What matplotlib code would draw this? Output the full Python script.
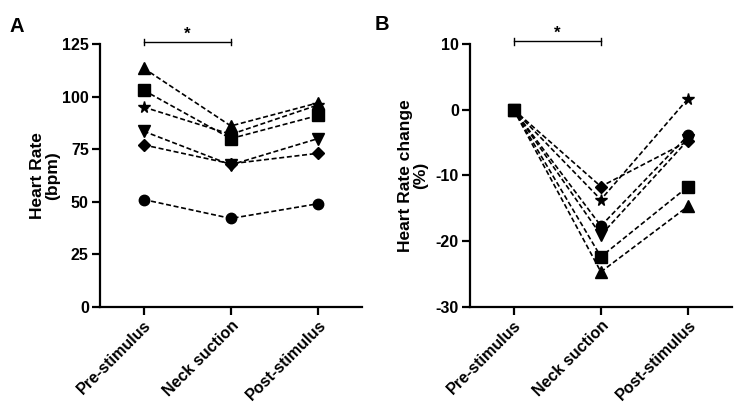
import matplotlib
matplotlib.use("Agg")
import matplotlib.pyplot as plt

plt.rcParams["font.family"] = ["Liberation Sans", "DejaVu Sans"]
plt.rcParams["font.weight"] = "bold"
plt.rcParams["axes.unicode_minus"] = False

# conditions on the x axis
CATEGORIES = ["Pre-stimulus", "Neck suction", "Post-stimulus"]

# one subject per marker
MARKERS = ["^", "s", "*", "v", "D", "o"]

# panel A: heart rate (bpm)
HR_TRI = [113.5, 86, 97]
HR_SQ = [103, 80, 91]
HR_STAR = [95, 82, 96]
HR_VTRI = [83.5, 67.5, 80]
HR_DIA = [77, 68, 73]
HR_CIRC = [51, 42, 49]

# panel B: heart rate change (%)
CH_TRI = [0, -24.7, -14.7]
CH_SQ = [0, -22.4, -11.7]
CH_STAR = [0, -13.7, 1.7]
CH_VTRI = [0, -19.1, -4.6]
CH_DIA = [0, -11.7, -4.8]
CH_CIRC = [0, -17.7, -3.9]

HR = [HR_TRI, HR_SQ, HR_STAR, HR_VTRI, HR_DIA, HR_CIRC]
CH = [CH_TRI, CH_SQ, CH_STAR, CH_VTRI, CH_DIA, CH_CIRC]

MS = {"^": 8.5, "s": 8, "*": 8.5, "v": 8.5, "D": 6, "o": 7.5}


def style_axis(ax, ylim, yticks, ylabel):
    ax.set_xlim(-0.5, 2.5)
    ax.set_ylim(*ylim)
    ax.set_yticks(yticks)
    ax.set_xticks(range(len(CATEGORIES)))
    ax.set_xticklabels(CATEGORIES, rotation=45, ha="right",
                       rotation_mode="anchor", fontsize=11.5, fontweight="bold")
    for lab in ax.get_yticklabels():
        lab.set_fontweight("bold")
        lab.set_fontsize(11.5)
    for s in ("top", "right"):
        ax.spines[s].set_visible(False)
    for s in ("left", "bottom"):
        ax.spines[s].set_linewidth(1.6)
    ax.tick_params(direction="out", length=5.5, width=1.6, pad=2.5)
    ax.set_ylabel(ylabel, fontsize=12.5, fontweight="bold", linespacing=1.05)


def sig_bar(ax, y, star_y):
    h = 0.012 * (ax.get_ylim()[1] - ax.get_ylim()[0])
    ax.plot([0, 1], [y, y], color="black", lw=1, clip_on=False)
    for xx in (0, 1):
        ax.plot([xx, xx], [y - h, y + h], color="black", lw=1, clip_on=False)
    ax.text(0.5, star_y, "*", ha="center", va="center", fontsize=12,
            fontweight="bold")


fig = plt.figure(figsize=(7.5, 4.17), dpi=100)
axA = fig.add_axes([0.1333, 0.2645, 0.349, 0.630])
axB = fig.add_axes([0.6267, 0.2645, 0.349, 0.630])

x = range(len(CATEGORIES))
for vals, m in zip(HR, MARKERS):
    axA.plot(x, vals, linestyle=(0, (3, 1.6)), color="black", lw=1.2,
             marker=m, ms=MS[m], mfc="black", mec="black", clip_on=False)
for vals, m in zip(CH, MARKERS):
    axB.plot(x, vals, linestyle=(0, (3, 1.6)), color="black", lw=1.2,
             marker=m, ms=MS[m], mfc="black", mec="black", clip_on=False)

style_axis(axA, (0, 125), [0, 25, 50, 75, 100, 125], "Heart Rate\n(bpm)")
style_axis(axB, (-30, 10), [-30, -20, -10, 0, 10], "Heart Rate change\n(%)")
axA.yaxis.set_label_coords(-0.152, 0.5)
axB.yaxis.set_label_coords(-0.16, 0.5)

sig_bar(axA, 125.8, 129.5)
sig_bar(axB, 10.4, 11.6)

fig.text(0.012, 0.923, "A", fontsize=14.5, fontweight="bold", va="baseline")
fig.text(0.499, 0.928, "B", fontsize=14.5, fontweight="bold", va="baseline")

fig.savefig("out.png", dpi=100)
